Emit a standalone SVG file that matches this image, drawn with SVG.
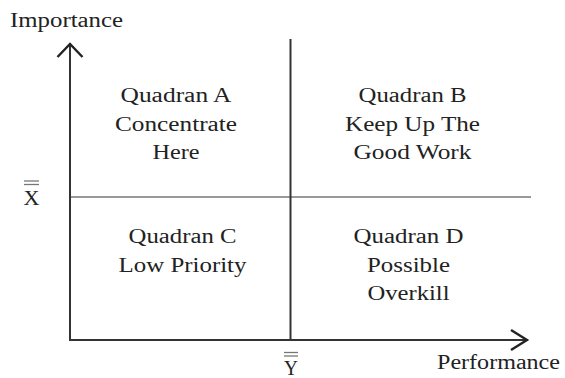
<svg xmlns="http://www.w3.org/2000/svg" width="565" height="378" viewBox="0 0 565 378">
<style>
text{font-family:"Liberation Serif","Times New Roman",serif;font-size:20px;fill:#222}
.c{text-anchor:middle}
.ax{stroke:#333;stroke-width:2;fill:none}
.arr{stroke:#222;stroke-width:2.4;fill:none;stroke-linejoin:miter}
.bar{stroke:#777;stroke-width:1.3}
</style>
<rect width="565" height="378" fill="#fff"/>
<g id="connectors">
<line x1="70" y1="197" x2="531" y2="197" stroke="#999" stroke-width="2"/>
<line class="ax" x1="290.5" y1="39" x2="290.5" y2="340"/>
<polyline class="ax" points="70,44 70,340 528,340"/>
<polyline class="arr" points="57.5,57 70,44 82.5,57"/>
<polyline class="arr" points="511,330 527,340 511,350"/>
</g>
<g id="axis-labels">
<text x="10" y="27" textLength="113" lengthAdjust="spacingAndGlyphs">Importance</text>
<text x="437" y="369" textLength="123" lengthAdjust="spacingAndGlyphs">Performance</text>
<text x="31.5" y="205" class="c" font-family="Liberation Sans" font-size="21" textLength="16" lengthAdjust="spacingAndGlyphs">X</text>
<line class="bar" x1="24" y1="181" x2="39" y2="181"/>
<line class="bar" x1="24" y1="184.5" x2="39" y2="184.5"/>
<text x="291" y="375" class="c" font-family="Liberation Sans" font-size="21" textLength="14" lengthAdjust="spacingAndGlyphs">Y</text>
<line class="bar" x1="284" y1="352.5" x2="298" y2="352.5"/>
<line class="bar" x1="284" y1="356" x2="298" y2="356"/>
</g>
<g id="quadA">
<text class="c" x="176" y="102" textLength="111" lengthAdjust="spacingAndGlyphs">Quadran A</text>
<text class="c" x="176" y="131" textLength="122" lengthAdjust="spacingAndGlyphs">Concentrate</text>
<text class="c" x="176" y="159" textLength="47" lengthAdjust="spacingAndGlyphs">Here</text>
</g>
<g id="quadB">
<text class="c" x="412.5" y="102" textLength="108" lengthAdjust="spacingAndGlyphs">Quadran B</text>
<text class="c" x="412.5" y="131" textLength="135" lengthAdjust="spacingAndGlyphs">Keep Up The</text>
<text class="c" x="412.5" y="159" textLength="118" lengthAdjust="spacingAndGlyphs">Good Work</text>
</g>
<g id="quadC">
<text class="c" x="182.5" y="243" textLength="108" lengthAdjust="spacingAndGlyphs">Quadran C</text>
<text class="c" x="182.5" y="272" textLength="128" lengthAdjust="spacingAndGlyphs">Low Priority</text>
</g>
<g id="quadD">
<text class="c" x="408.5" y="243" textLength="110" lengthAdjust="spacingAndGlyphs">Quadran D</text>
<text class="c" x="408.5" y="272" textLength="83" lengthAdjust="spacingAndGlyphs">Possible</text>
<text class="c" x="408.5" y="300" textLength="82" lengthAdjust="spacingAndGlyphs">Overkill</text>
</g>
</svg>
